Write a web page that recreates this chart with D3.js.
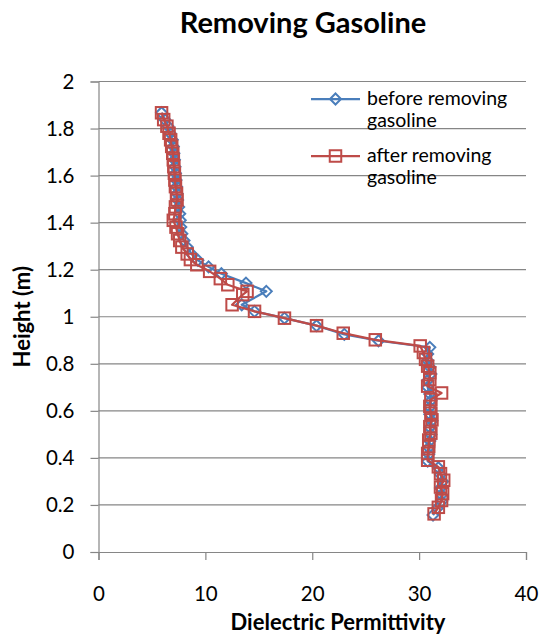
<!DOCTYPE html>
<html>
<head>
<meta charset="utf-8">
<script src="https://cdn.jsdelivr.net/npm/d3@7/dist/d3.min.js"></script>
<style>
  html, body { margin: 0; padding: 0; background: #fff; }
  svg text { font-family: "Lato", "Open Sans", sans-serif; fill: #000; }
</style>
</head>
<body>
<svg id="chart" width="545" height="638"></svg>
<script>
// Dielectric permittivity profile with depth, before and after gasoline removal
const seriesNames = ["before removing gasoline", "after removing gasoline"];

const beforeHeight = [1.867,1.838,1.81,1.78,1.752,1.724,1.695,1.667,1.638,1.61,1.581,1.553,1.524,1.496,1.467,1.438,1.41,1.381,1.353,1.324,1.296,1.267,1.24,1.212,1.183,1.143,1.108,1.051,1.023,0.994,0.962,0.925,0.898,0.87,0.842,0.814,0.786,0.757,0.729,0.7,0.672,0.643,0.615,0.586,0.558,0.529,0.5,0.472,0.443,0.415,0.386,0.358,0.329,0.3,0.272,0.243,0.215,0.186,0.157];
const beforeValue  = [5.9,6.2,6.5,6.7,6.9,7.0,7.05,7.1,7.15,7.2,7.25,7.3,7.35,7.4,7.5,7.6,7.65,7.7,7.8,8.0,8.3,8.7,9.3,10.3,11.5,13.8,15.7,13.4,14.6,17.4,20.4,23.0,26.2,31.0,30.8,30.8,31.0,31.1,30.8,30.8,31.0,31.1,31.0,31.0,31.2,31.0,31.1,31.0,30.9,30.9,30.8,31.8,32.0,32.2,32.0,32.1,32.1,31.7,31.3];

const afterHeight = [1.867,1.838,1.81,1.78,1.752,1.724,1.695,1.667,1.638,1.61,1.581,1.553,1.524,1.496,1.467,1.438,1.41,1.381,1.353,1.324,1.296,1.267,1.243,1.221,1.193,1.162,1.136,1.108,1.094,1.051,1.023,0.994,0.962,0.93,0.902,0.876,0.848,0.819,0.79,0.762,0.733,0.705,0.676,0.648,0.619,0.59,0.562,0.533,0.505,0.476,0.448,0.419,0.39,0.362,0.333,0.305,0.276,0.248,0.219,0.19,0.162];
const afterValue  = [5.9,6.1,6.4,6.6,6.75,6.85,6.95,7.0,7.05,7.1,7.15,7.2,7.3,7.35,7.2,7.15,7.0,7.25,7.4,7.6,7.8,8.3,8.6,9.2,10.4,11.4,12.1,13.9,13.5,12.5,14.6,17.4,20.4,22.9,25.9,30.1,30.4,30.6,30.8,31.0,31.0,30.8,32.1,31.1,31.0,31.1,31.2,31.0,31.1,30.9,30.9,30.8,30.8,31.8,32.0,32.3,32.0,32.2,32.1,31.8,31.4];

const xTicks = [0, 10, 20, 30, 40];
const yTicks = [0, 0.2, 0.4, 0.6, 0.8, 1, 1.2, 1.4, 1.6, 1.8, 2];

const colors = ["#4a7ebb", "#be4b48"];

const svg = d3.select("#chart");
const plot = { left: 98.5, right: 526, top: 81.5, bottom: 552 };

const x = d3.scaleLinear().domain([0, 40]).range([plot.left, plot.right]);
const y = d3.scaleLinear().domain([0, 2]).range([plot.bottom, plot.top]);

// horizontal gridlines
svg.append("g")
  .selectAll("line")
  .data(yTicks.filter(d => d > 0))
  .join("line")
  .attr("x1", plot.left).attr("x2", plot.right)
  .attr("y1", d => y(d)).attr("y2", d => y(d))
  .attr("stroke", "#868686").attr("stroke-width", 1.2);

// axes
const xAxis = svg.append("g")
  .attr("transform", `translate(0,${plot.bottom})`)
  .call(d3.axisBottom(x).tickValues(xTicks).tickSize(8).tickPadding(26).tickFormat(d3.format("d")));
const yAxis = svg.append("g")
  .attr("transform", `translate(${plot.left},0)`)
  .call(d3.axisLeft(y).tickValues(yTicks).tickSize(8).tickPadding(16).tickFormat(d => d3.format("")(d)));

[xAxis, yAxis].forEach(g => {
  g.select(".domain").attr("stroke", "#868686").attr("stroke-width", 1.2);
  g.selectAll(".tick line").attr("stroke", "#868686").attr("stroke-width", 1.2);
  g.selectAll(".tick text").attr("font-size", 20.5).attr("font-family", "Lato, sans-serif").attr("fill", "#000");
});

// series lines and markers
const series = [
  { h: beforeHeight, v: beforeValue, shape: "diamond" },
  { h: afterHeight,  v: afterValue,  shape: "square" }
];

const line = d3.line().x(d => x(d[1])).y(d => y(d[0]));

function drawMarker(g, shape, color, cx, cy) {
  if (shape === "diamond") {
    const r = 5.5;
    g.append("path")
      .attr("d", `M${cx},${cy - r}L${cx + r},${cy}L${cx},${cy + r}L${cx - r},${cy}Z`)
      .attr("fill", "none").attr("stroke", color).attr("stroke-width", 2);
  } else {
    const s = 11.5;
    g.append("rect")
      .attr("x", cx - s / 2).attr("y", cy - s / 2).attr("width", s).attr("height", s)
      .attr("fill", "none").attr("stroke", color).attr("stroke-width", 2);
  }
}

series.forEach((s, i) => {
  const pts = s.h.map((h, j) => [h, s.v[j]]);
  const g = svg.append("g");
  g.append("path").attr("d", line(pts))
    .attr("fill", "none").attr("stroke", colors[i]).attr("stroke-width", 2.25)
    .attr("stroke-linejoin", "round");
  pts.forEach(p => drawMarker(g, s.shape, colors[i], x(p[1]), y(p[0])));
});

// legend
const legend = svg.append("g");
const legendRows = [
  { y: 99, lines: ["before removing", "gasoline"] },
  { y: 156, lines: ["after removing", "gasoline"] }
];
legendRows.forEach((row, i) => {
  legend.append("line")
    .attr("x1", 311).attr("x2", 360).attr("y1", row.y).attr("y2", row.y)
    .attr("stroke", colors[i]).attr("stroke-width", 2.25);
  drawMarker(legend, i === 0 ? "diamond" : "square", colors[i], 335.5, row.y);
  const t = legend.append("text").attr("x", 367).attr("y", row.y + 6).attr("font-size", 19.5);
  row.lines.forEach((s, k) => t.append("tspan").attr("x", 367).attr("dy", k === 0 ? 0 : 22).text(s));
});

// titles
svg.append("text")
  .attr("x", 303).attr("y", 33).attr("text-anchor", "middle")
  .attr("font-size", 29).attr("font-weight", "bold")
  .text("Removing Gasoline");

svg.append("text")
  .attr("x", 338).attr("y", 630).attr("text-anchor", "middle")
  .attr("font-size", 22).attr("font-weight", "bold")
  .text("Dielectric Permittivity");

svg.append("text")
  .attr("transform", `translate(30,${(plot.top + plot.bottom) / 2}) rotate(-90)`)
  .attr("text-anchor", "middle")
  .attr("font-size", 22).attr("font-weight", "bold")
  .text("Height (m)");
</script>
</body>
</html>
